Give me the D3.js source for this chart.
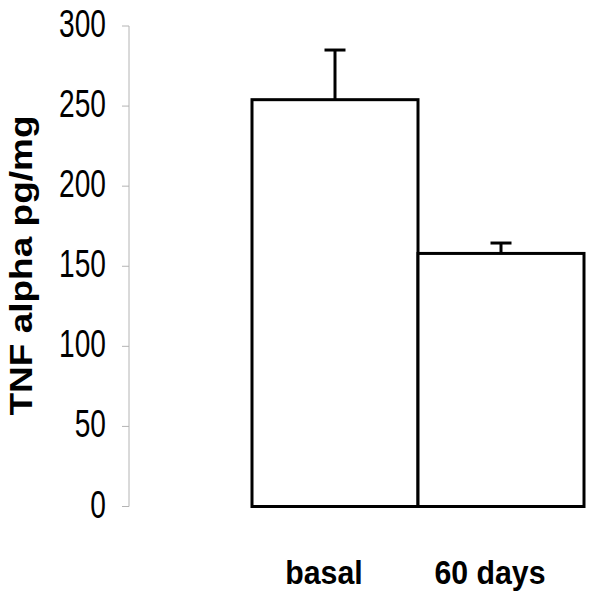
<!DOCTYPE html>
<meta charset="utf-8">
<html>
<head>
    <script src="https://cdnjs.cloudflare.com/ajax/libs/d3/7.8.5/d3.min.js"></script>
    <style type="text/css">
    body {
        margin: 0;
        background: white;
    }
    text {
        font-family: "Liberation Sans", Arial, sans-serif;
    }
    </style>
</head>
<body>
<script type="text/javascript">

    // data
    var groups = ["basal", "60 days"];
    var means = [254, 158];
    var errors = [31, 6.5];
    var yTicks = [0, 50, 100, 150, 200, 250, 300];

    var width = 600,
        height = 597;

    var svg = d3.select("body")
                .append("svg")
                .attr("width", width)
                .attr("height", height);

    var y = d3.scaleLinear()
              .domain([0, 300])
              .range([506.5, 26]);

    var x = d3.scaleBand()
              .domain(groups)
              .range([252, 584])
              .paddingInner(0);

    // y axis, thin gray line with ticks on the left
    var axisX = 129;
    svg.append("line")
       .attr("x1", axisX).attr("x2", axisX)
       .attr("y1", y(0)).attr("y2", y(300))
       .attr("stroke", "#b4b4b4")
       .attr("stroke-width", 1);

    svg.selectAll(".tick")
       .data(yTicks)
       .enter()
       .append("line")
       .attr("class", "tick")
       .attr("x1", axisX - 7).attr("x2", axisX)
       .attr("y1", function(d) { return y(d); })
       .attr("y2", function(d) { return y(d); })
       .attr("stroke", "#b4b4b4")
       .attr("stroke-width", 1);

    // tick labels, squeezed sideways like the original
    svg.selectAll(".ticklabel")
       .data(yTicks)
       .enter()
       .append("text")
       .attr("class", "ticklabel")
       .attr("transform", function(d) { return "translate(106," + (y(d) + 11) + ") scale(0.74,1)"; })
       .attr("text-anchor", "end")
       .style("font-size", "38px")
       .text(function(d) { return d; });

    // bars
    svg.selectAll(".bar")
       .data(groups)
       .enter()
       .append("rect")
       .attr("class", "bar")
       .attr("x", function(d) { return x(d); })
       .attr("width", x.bandwidth())
       .attr("y", function(d, i) { return y(means[i]); })
       .attr("height", function(d, i) { return y(0) - y(means[i]); })
       .attr("fill", "white")
       .attr("stroke", "black")
       .attr("stroke-width", 3);

    // error bars, upper half only
    svg.selectAll(".err")
       .data(groups)
       .enter()
       .append("line")
       .attr("class", "err")
       .attr("x1", function(d) { return x(d) + x.bandwidth() / 2; })
       .attr("x2", function(d) { return x(d) + x.bandwidth() / 2; })
       .attr("y1", function(d, i) { return y(means[i]); })
       .attr("y2", function(d, i) { return y(means[i] + errors[i]); })
       .attr("stroke", "black")
       .attr("stroke-width", 3);

    svg.selectAll(".cap")
       .data(groups)
       .enter()
       .append("line")
       .attr("class", "cap")
       .attr("x1", function(d) { return x(d) + x.bandwidth() / 2 - 10.5; })
       .attr("x2", function(d) { return x(d) + x.bandwidth() / 2 + 10.5; })
       .attr("y1", function(d, i) { return y(means[i] + errors[i]); })
       .attr("y2", function(d, i) { return y(means[i] + errors[i]); })
       .attr("stroke", "black")
       .attr("stroke-width", 3);

    // category labels under the bars
    svg.selectAll(".xlabel")
       .data(groups)
       .enter()
       .append("text")
       .attr("class", "xlabel")
       .attr("transform", function(d) { return "translate(" + (x(d) + x.bandwidth() / 2 - 11) + ",583.5) scale(0.89,1)"; })
       .attr("text-anchor", "middle")
       .style("font-size", "34px")
       .style("font-weight", "bold")
       .text(function(d) { return d; });

    // y title
    svg.append("text")
       .attr("transform", "translate(32,265.5) scale(0.83,1) rotate(-90)")
       .attr("text-anchor", "middle")
       .style("font-size", "37px")
       .style("font-weight", "bold")
       .text("TNF alpha pg/mg");

</script>
</body>
</html>
